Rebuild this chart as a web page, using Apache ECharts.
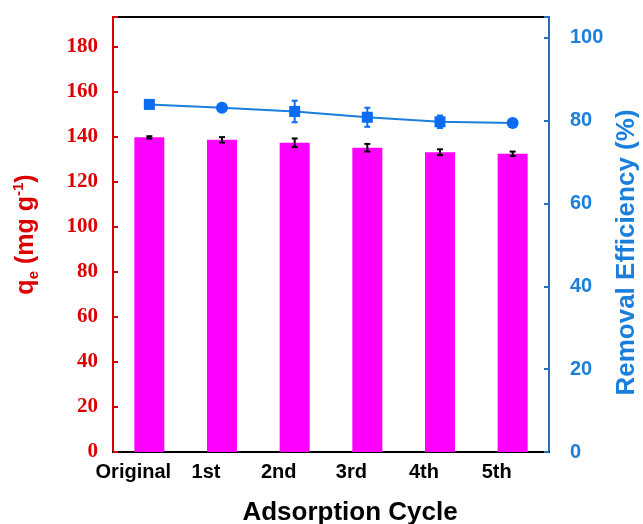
<!DOCTYPE html>
<html><head><meta charset="utf-8">
<script src="https://cdn.jsdelivr.net/npm/echarts@6/dist/echarts.min.js"></script>
<style>html,body{margin:0;padding:0;background:#fff}#c{width:643px;height:524px}</style>
</head><body><div id="c"></div>
<script>
const categories = ['Original', '1st', '2nd', '3rd', '4th', '5th'];
const qe = [139.6, 138.5, 137.2, 135.0, 133.0, 132.3];
const qeErr = [0.5, 1.2, 1.9, 1.7, 1.3, 1.0];
const removal = [83.9, 83.1, 82.2, 80.8, 79.7, 79.4];
const removalErr = [0.3, 0.5, 2.6, 2.3, 1.5, 0.6];
const markerShapes = ['rect', 'circle', 'rect', 'rect', 'rect', 'circle'];
const leftTicks = [0, 20, 40, 60, 80, 100, 120, 140, 160, 180];
const rightTicks = [0, 20, 40, 60, 80, 100];

const RED = '#dc0000';
const BLUE = '#1a7fdc';
const BLUE_AXIS = '#2a6fb8';

function errRender(color, cap, width) {
  return function (params, api) {
    const x = api.value(0), v = api.value(1), e = api.value(2);
    const hi = api.coord([x, v + e]);
    const lo = api.coord([x, v - e]);
    const st = { stroke: color, lineWidth: width };
    return {
      type: 'group',
      children: [
        { type: 'line', shape: { x1: hi[0], y1: hi[1], x2: lo[0], y2: lo[1] }, style: st },
        { type: 'line', shape: { x1: hi[0] - cap, y1: hi[1], x2: hi[0] + cap, y2: hi[1] }, style: st },
        { type: 'line', shape: { x1: lo[0] - cap, y1: lo[1], x2: lo[0] + cap, y2: lo[1] }, style: st }
      ]
    };
  };
}

const chart = echarts.init(document.getElementById('c'), null, { renderer: 'canvas' });
chart.setOption({
  backgroundColor: '#fff',
  animation: false,
  grid: { left: 113, right: 94, top: 17, bottom: 72, containLabel: false, outerBoundsMode: 'none', show: true, borderColor: '#000', borderWidth: 2, backgroundColor: 'transparent' },
  xAxis: {
    type: 'category',
    data: categories,
    axisLine: { lineStyle: { color: '#000', width: 2 } },
    axisTick: { show: false },
    axisLabel: { interval: 0, hideOverlap: false, color: '#000', fontFamily: 'Arial, Liberation Sans', fontWeight: 'bold', fontSize: 20, margin: 10, padding: [0, 32, 0, 0] },
    name: 'Adsorption Cycle',
    nameLocation: 'middle',
    nameGap: 48,
    nameTextStyle: { color: '#000', fontFamily: 'Arial, Liberation Sans', fontWeight: 'bold', fontSize: 26, padding: [0, 0, 0, 38] }
  },
  yAxis: [
    {
      type: 'value', position: 'left', min: 0, max: 193, interval: 20,
      axisLine: { show: true, lineStyle: { color: RED, width: 2 } },
      axisTick: { show: true, inside: true, length: 5, lineStyle: { color: RED, width: 2 } },
      splitLine: { show: false },
      axisLabel: {
        color: RED, fontFamily: 'Liberation Serif, Times New Roman', fontWeight: 'bold', fontSize: 21, margin: 15,
        formatter: v => leftTicks.includes(v) ? String(v) : ''
      },
      name: '{a|q}{s|e}{a| (mg g}{p|-1}{a|)}',
      nameLocation: 'middle',
      nameGap: 72,
      nameTextStyle: {
        rich: {
          a: { color: RED, fontFamily: 'Arial, Liberation Sans', fontWeight: 'bold', fontSize: 25, lineHeight: 30 },
          s: { color: RED, fontFamily: 'Arial, Liberation Sans', fontWeight: 'bold', fontSize: 15, lineHeight: 14, verticalAlign: 'bottom' },
          p: { color: RED, fontFamily: 'Arial, Liberation Sans', fontWeight: 'bold', fontSize: 15, lineHeight: 14, verticalAlign: 'top' }
        }
      }
    },
    {
      type: 'value', position: 'right', min: 0, max: 105, interval: 20,
      axisLine: { show: true, lineStyle: { color: BLUE_AXIS, width: 2 } },
      axisTick: { show: true, inside: true, length: 5, lineStyle: { color: BLUE_AXIS, width: 2 } },
      splitLine: { show: false },
      axisLabel: {
        color: BLUE, fontFamily: 'Arial, Liberation Sans', fontWeight: 'bold', fontSize: 20, margin: 21,
        formatter: v => rightTicks.includes(v) ? String(v) : ''
      },
      name: 'Removal Efficiency (%)',
      nameLocation: 'middle',
      nameGap: 61,
      nameTextStyle: { color: BLUE, fontFamily: 'Arial, Liberation Sans', fontWeight: 'bold', fontSize: 26, padding: [0, 36, 0, 0] }
    }
  ],
  series: [
    {
      type: 'bar', yAxisIndex: 0, data: qe, barWidth: 30,
      itemStyle: { color: '#ff00ff' }, z: 2
    },
    {
      type: 'custom', yAxisIndex: 0, z: 3,
      renderItem: errRender('#000', 3, 2),
      data: categories.map((c, i) => [i, qe[i], qeErr[i]])
    },
    {
      type: 'line', yAxisIndex: 1, z: 5,
      data: removal.map((v, i) => ({ value: v, symbol: markerShapes[i], symbolSize: markerShapes[i] === 'rect' ? 11 : 12 })),
      lineStyle: { color: '#1a7fdc', width: 2 },
      itemStyle: { color: '#0a6cf0' }
    },
    {
      type: 'custom', yAxisIndex: 1, z: 4,
      renderItem: errRender('#0a6cf0', 3, 2),
      data: categories.map((c, i) => [i, removal[i], removalErr[i]])
    }
  ]
});
</script>
</body></html>
